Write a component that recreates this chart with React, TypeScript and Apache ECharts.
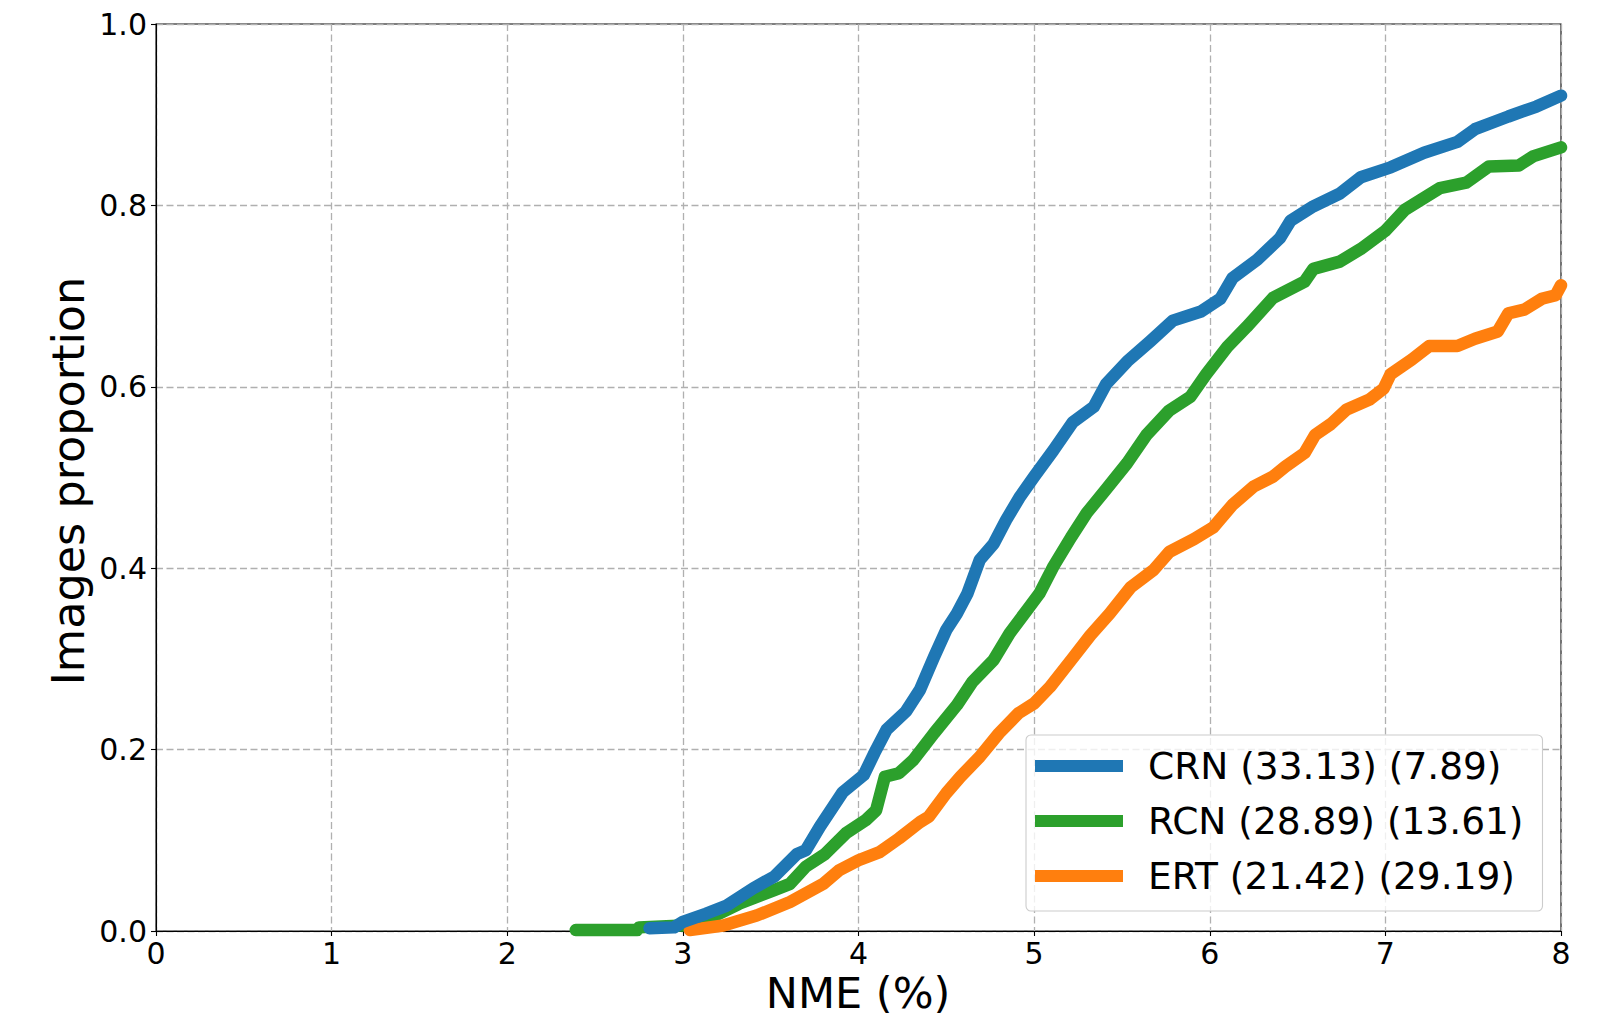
import React, { useEffect, useRef } from "react";
import * as echarts from "echarts";

const SERIES_NAMES = ["CRN (33.13) (7.89)", "RCN (28.89) (13.61)", "ERT (21.42) (29.19)"];
const COLORS = ["#1f77b4", "#2ca02c", "#ff7f0e"];
const X_LABEL = "NME (%)";
const Y_LABEL = "Images proportion";

const CRN: [number, number][] = [
  [2.81, 0.003], [2.95, 0.004], [3.0, 0.01], [3.13, 0.019], [3.25, 0.028], [3.4, 0.047], [3.52, 0.06],
  [3.65, 0.085], [3.7, 0.089], [3.78, 0.115], [3.91, 0.153], [4.03, 0.172], [4.09, 0.196], [4.16, 0.222],
  [4.27, 0.242], [4.35, 0.266], [4.43, 0.302], [4.5, 0.332], [4.56, 0.35], [4.62, 0.372], [4.69, 0.409],
  [4.77, 0.427], [4.84, 0.453], [4.92, 0.479], [5.0, 0.501], [5.11, 0.53], [5.22, 0.561], [5.34, 0.578],
  [5.41, 0.603], [5.53, 0.628], [5.66, 0.65], [5.79, 0.673], [5.95, 0.683], [6.06, 0.697], [6.13, 0.72],
  [6.27, 0.74], [6.4, 0.764], [6.46, 0.783], [6.59, 0.799], [6.74, 0.813], [6.86, 0.831], [7.03, 0.842],
  [7.22, 0.858], [7.41, 0.87], [7.51, 0.884], [7.7, 0.898], [7.86, 0.909], [8.0, 0.921],
];

const RCN: [number, number][] = [
  [2.39, 0.001], [2.74, 0.001], [2.75, 0.004], [3.0, 0.006], [3.13, 0.012], [3.32, 0.03], [3.52, 0.045],
  [3.61, 0.052], [3.7, 0.071], [3.81, 0.085], [3.93, 0.108], [4.04, 0.122], [4.1, 0.133], [4.15, 0.17],
  [4.23, 0.174], [4.31, 0.188], [4.43, 0.218], [4.56, 0.249], [4.65, 0.275], [4.77, 0.299], [4.86, 0.328],
  [4.96, 0.354], [5.03, 0.372], [5.11, 0.402], [5.21, 0.434], [5.3, 0.461], [5.41, 0.487], [5.53, 0.516],
  [5.64, 0.547], [5.77, 0.574], [5.89, 0.589], [5.98, 0.614], [6.1, 0.644], [6.21, 0.666], [6.36, 0.698],
  [6.54, 0.716], [6.59, 0.73], [6.74, 0.738], [6.86, 0.752], [7.0, 0.772], [7.11, 0.795], [7.31, 0.819],
  [7.46, 0.825], [7.59, 0.843], [7.76, 0.844], [7.84, 0.854], [8.0, 0.864],
];

const ERT: [number, number][] = [
  [3.04, 0.001], [3.23, 0.006], [3.42, 0.017], [3.61, 0.032], [3.8, 0.052], [3.89, 0.067], [4.0, 0.078],
  [4.12, 0.087], [4.23, 0.102], [4.35, 0.12], [4.4, 0.126], [4.5, 0.152], [4.58, 0.17], [4.69, 0.192],
  [4.8, 0.218], [4.91, 0.24], [5.0, 0.251], [5.09, 0.269], [5.22, 0.301], [5.32, 0.326], [5.43, 0.35],
  [5.55, 0.379], [5.68, 0.398], [5.77, 0.418], [5.91, 0.432], [6.02, 0.445], [6.13, 0.47], [6.25, 0.49],
  [6.36, 0.501], [6.43, 0.512], [6.54, 0.527], [6.6, 0.547], [6.69, 0.559], [6.78, 0.575], [6.91, 0.586],
  [6.99, 0.598], [7.03, 0.614], [7.15, 0.63], [7.25, 0.645], [7.41, 0.645], [7.51, 0.653], [7.64, 0.661],
  [7.7, 0.681], [7.79, 0.685], [7.89, 0.697], [7.97, 0.701], [8.0, 0.712],
];

const SERIES_DATA = [CRN, RCN, ERT];
const Z_ORDER = [4, 2, 3];

export default function App() {
  const ref = useRef<HTMLDivElement>(null);

  useEffect(() => {
    const chart = echarts.init(ref.current!, null, { renderer: "svg" });
    const FONT = "DejaVu Sans";
    const axisLineStyle = { color: "#000", width: 1.1 };
    const gridLine = { show: true, lineStyle: { color: "#b0b0b0", type: [7, 3.5], width: 1.3 } };

    chart.setOption({
      animation: false,
      backgroundColor: "#fff",
      grid: {
        left: 156,
        top: 24,
        width: 1405,
        height: 907,
        show: true,
        borderColor: "#000",
        borderWidth: 1.1,
        backgroundColor: "transparent",
      },
      xAxis: {
        type: "value",
        min: 0,
        max: 8,
        interval: 1,
        axisLine: { show: true, onZero: false, lineStyle: axisLineStyle },
        axisTick: { show: true, length: 5, lineStyle: axisLineStyle },
        axisLabel: { fontSize: 30, color: "#000", fontFamily: FONT, margin: 7 },
        splitLine: gridLine,
      },
      yAxis: {
        type: "value",
        min: 0,
        max: 1,
        interval: 0.2,
        axisLine: { show: true, onZero: false, lineStyle: axisLineStyle },
        axisTick: { show: true, length: 5, lineStyle: axisLineStyle },
        axisLabel: {
          fontSize: 30,
          color: "#000",
          fontFamily: FONT,
          margin: 9,
          formatter: (v: number) => v.toFixed(1),
        },
        splitLine: gridLine,
      },
      legend: {
        orient: "vertical",
        left: 1026,
        top: 735,
        padding: [11, 19, 15, 9],
        itemGap: 15,
        itemWidth: 88,
        itemHeight: 12,
        icon: "rect",
        backgroundColor: "rgba(255,255,255,0.8)",
        borderColor: "#cccccc",
        borderWidth: 1.1,
        borderRadius: 5,
        textStyle: {
          fontSize: 37.5,
          fontFamily: FONT,
          color: "#000",
          lineHeight: 40,
          padding: [0, 0, 0, 20],
        },
        data: SERIES_NAMES,
      },
      graphic: [
        {
          type: "text",
          x: 858,
          y: 993,
          style: {
            text: X_LABEL,
            fontSize: 43,
            fontFamily: FONT,
            fill: "#000",
            align: "center",
            verticalAlign: "middle",
          },
        },
        {
          type: "text",
          x: 68,
          y: 481,
          rotation: Math.PI / 2,
          style: {
            text: Y_LABEL,
            fontSize: 44.5,
            fontFamily: FONT,
            fill: "#000",
            align: "center",
            verticalAlign: "middle",
          },
        },
      ],
      series: SERIES_NAMES.map((name, i) => ({
        name,
        type: "line",
        data: SERIES_DATA[i],
        showSymbol: false,
        symbol: "none",
        clip: true,
        z: Z_ORDER[i],
        itemStyle: { color: COLORS[i] },
        lineStyle: { color: COLORS[i], width: 12.5, cap: "round", join: "round" },
      })),
    });

    return () => chart.dispose();
  }, []);

  return (
    <div
      ref={ref}
      style={{ position: "fixed", left: 0, top: 0, width: 1619, height: 1022 }}
    />
  );
}
